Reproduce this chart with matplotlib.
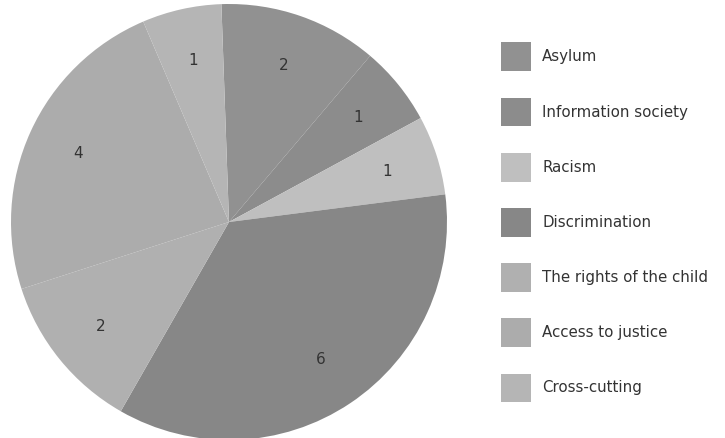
import matplotlib
matplotlib.use("Agg")
import matplotlib.pyplot as plt

categories = ["Asylum", "Information society", "Racism", "Discrimination",
              "The rights of the child", "Access to justice", "Cross-cutting"]
counts = [2, 1, 1, 6, 2, 4, 1]
colors = ["#919191", "#8c8c8c", "#bfbfbf", "#878787", "#b0b0b0", "#acacac", "#b5b5b5"]


def main():
    fig = plt.figure(figsize=(7.25, 4.38), dpi=100)
    ax = fig.add_axes([11 / 725, -2 / 438, 436 / 725, 436 / 438])

    wedges, texts = ax.pie(counts, labels=[str(c) for c in counts], colors=colors,
                           startangle=92, counterclock=False, labeldistance=0.76,
                           wedgeprops=dict(linewidth=0),
                           textprops=dict(fontsize=11, color="#333333",
                                          ha="center", va="center"))
    ax.set_xlim(-1, 1)
    ax.set_ylim(-1, 1)
    ax.set_aspect("equal")

    fig.legend(wedges, categories, loc="upper left",
               bbox_to_anchor=(493 / 725, 1 - 35 / 438), frameon=False,
               fontsize=10.8, handlelength=2.03, handleheight=2.56,
               handletextpad=0.75, labelspacing=1.77, borderpad=0,
               labelcolor="#333333")

    fig.savefig("out.png", dpi=100)


if __name__ == "__main__":
    main()
